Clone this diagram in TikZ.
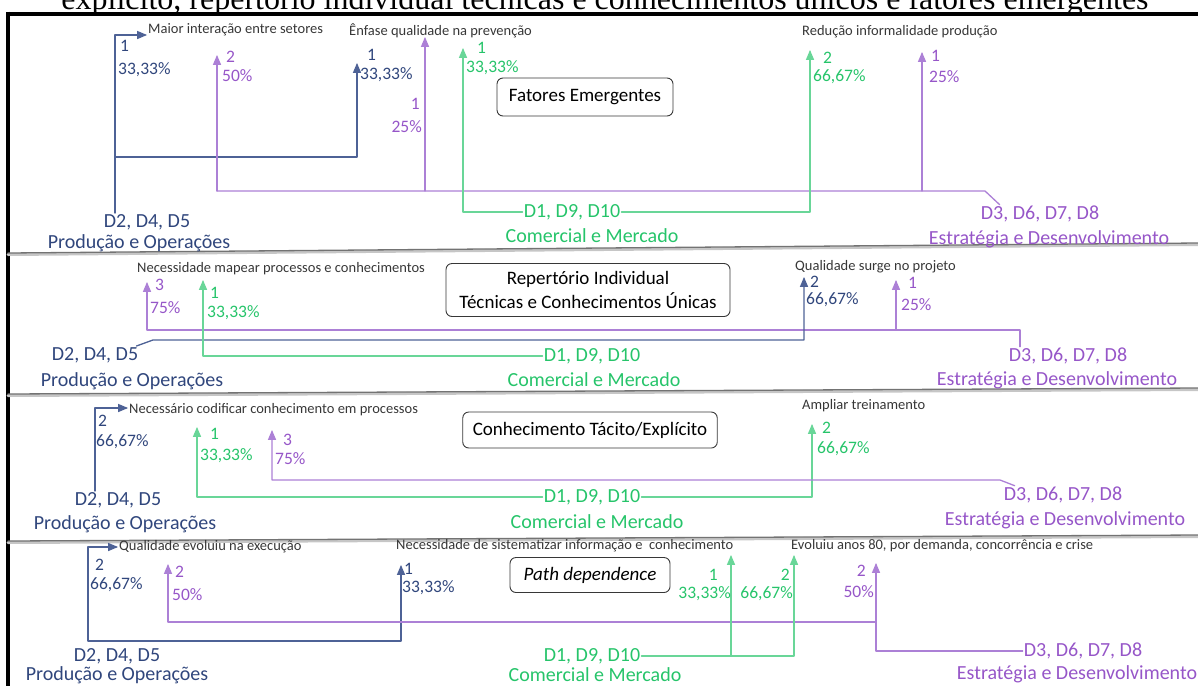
\documentclass[tikz,border=0pt]{standalone}
\usepackage{fontspec}
\setmainfont{Carlito}
\newfontfamily\serifa{Liberation Serif}
\usetikzlibrary{arrows}

\definecolor{azul}{RGB}{48,70,124}
\definecolor{azulclaro}{RGB}{78,98,150}
\definecolor{roxo}{RGB}{150,86,200}
\definecolor{roxoclaro}{RGB}{172,128,214}
\definecolor{verde}{RGB}{38,196,106}
\definecolor{verdeclaro}{RGB}{105,214,152}
\definecolor{cinza}{RGB}{55,55,55}

\tikzset{
  dept/.style={inner sep=1pt,font=\fontsize{20}{22}\selectfont},
  pct/.style={inner sep=0pt,anchor=west,font=\fontsize{17.5}{19}\selectfont},
  nota/.style={inner sep=1pt,anchor=west,text=cinza,font=\fontsize{14.5}{16}\selectfont},
  caixa/.style={draw=cinza,rounded corners=6pt,line width=0.9pt,align=center,
    inner xsep=10pt,font=\fontsize{19}{24}\selectfont},
  azl/.style={draw=azulclaro,line width=1.3pt},
  rxl/.style={draw=roxoclaro,line width=1.3pt},
  vdl/.style={draw=verdeclaro,line width=1.3pt}
}

\begin{document}
\begin{tikzpicture}[line cap=round,line join=round,>=triangle 45,x=1pt,y=-1pt]
	\useasboundingbox (0,0) rectangle (1198,686);
	% titulo cortado no topo
	\begin{scope}
		\clip (0,0) rectangle (1198,12);
		\node[anchor=base,inner sep=0pt,font=\serifa\fontsize{32}{34}\selectfont] (titulo) at (605,9)
			{explícito, repertório individual técnicas e conhecimentos únicos e fatores emergentes};
	\end{scope}
	% moldura e separadores
	\draw [line width=4pt,line cap=butt] (6,13.5)--(1198,13.5);
	\draw [line width=4pt,line cap=butt] (8,11.5)--(8,686);
	\foreach \ya/\yb in {253/243,394/388,541/535}{
		\draw [gray!45,line width=3pt] (8,\ya+1.5)--(1198,\yb+1.5);
		\draw [gray!90!black,line width=1.3pt] (8,\ya)--(1198,\yb);
	}

	% ---------- fatores emergentes ----------
	\node[caixa,minimum width=176,minimum height=38] (fat) at (585,97) {Fatores Emergentes};
	\node[nota] (mai) at (147,30) {Maior interação entre setores};
	\node[nota] (enf) at (348,31) {Ênfase qualidade na prevenção};
	\node[nota] (red) at (801,32) {Redução informalidade produção};
	\node[dept,text=azul] (pro1) at (147,222) {D2, D4, D5};
	\node[dept,text=azul] (pro1b) at (139,243) {Produção e Operações};
	\node[dept,text=verde] (com1) at (572,212) {D1, D9, D10};
	\node[dept,text=verde] (com1b) at (592,236) {Comercial e Mercado};
	\node[dept,text=roxo] (est1) at (1040,214) {D3, D6, D7, D8};
	\node[dept,text=roxo] (est1b) at (1049,239) {Estratégia e Desenvolvimento};
	\coordinate (a1) at (357,63);
	\coordinate (r1a) at (217,55);
	\coordinate (r1b) at (425,37);
	\coordinate (r1c) at (922,52);
	\coordinate (v1a) at (463,48);
	\coordinate (v1b) at (810,50);
	\draw [azl,->] (115,0 |- pro1.north)--(115,35)--(mai.west |- 0,35);
	\draw [azl,->] (115,157) -| (a1);
	\draw [rxl] ([xshift=20pt]est1.north west)--(985,191)--(217,191);
	\foreach \p in {r1a,r1b,r1c}
		\draw [rxl,->] (\p |- 0,191)--(\p);
	\draw [vdl,->] (com1.west) -| (v1a);
	\draw [vdl,->] (com1.east) -| (v1b);
	\node[pct,text=azul] at (120,46) {1};
	\node[pct,text=azul] at (118,70) {33,33\%};
	\node[pct,text=azul] at (367,55) {1};
	\node[pct,text=azul] at (360,75) {33,33\%};
	\node[pct,text=roxo] at (226,57) {2};
	\node[pct,text=roxo] at (222,76) {50\%};
	\node[pct,text=roxo,anchor=east] at (420,104) {1};
	\node[pct,text=roxo,anchor=east] at (422,127) {25\%};
	\node[pct,text=roxo] at (931,56) {1};
	\node[pct,text=roxo] at (929,77) {25\%};
	\node[pct,text=verde] at (477,48) {1};
	\node[pct,text=verde] at (466,68) {33,33\%};
	\node[pct,text=verde] at (823,58) {2};
	\node[pct,text=verde] at (813,77) {66,67\%};

	% ---------- repertorio individual ----------
	\node[caixa,minimum width=284,minimum height=53] (rep) at (588,290)
		{Repertório Individual\\Técnicas e Conhecimentos Únicas};
	\node[nota] (nec) at (136,269) {Necessidade mapear processos e conhecimentos};
	\node[nota] (qua) at (794,267) {Qualidade surge no projeto};
	\node[dept,text=azul] (pro2) at (95,355) {D2, D4, D5};
	\node[dept,text=azul] (pro2b) at (132,381) {Produção e Operações};
	\node[dept,text=verde] (com2) at (592,356) {D1, D9, D10};
	\node[dept,text=verde] (com2b) at (594,380) {Comercial e Mercado};
	\node[dept,text=roxo] (est2) at (1068,356) {D3, D6, D7, D8};
	\node[dept,text=roxo] (est2b) at (1057,380) {Estratégia e Desenvolvimento};
	\coordinate (a2) at (804,277);
	\coordinate (r2a) at (147,282);
	\coordinate (r2b) at (896,280);
	\coordinate (v2a) at (203,280);
	\draw [rxl,->] (1020,0 |- est2.north)--(1020,330) -| (r2a);
	\draw [rxl,->] (r2b |- 0,330)--(r2b);
	\draw [azl,->] ([xshift=-3pt]pro2.north east)--(153,340) -| (a2);
	\draw [vdl,->] (com2.west) -| (v2a);
	\node[pct,text=roxo] at (155,285) {3};
	\node[pct,text=roxo] at (150,308) {75\%};
	\node[pct,text=roxo] at (908,283) {1};
	\node[pct,text=roxo] at (901,305) {25\%};
	\node[pct,text=verde] at (210,293) {1};
	\node[pct,text=verde] at (207,313) {33,33\%};
	\node[pct,text=azul] at (810,282) {2};
	\node[pct,text=azul] at (806,300) {66,67\%};

	% ---------- conhecimento tacito/explicito ----------
	\node[caixa,minimum width=254,minimum height=36] (tac) at (590,430) {Conhecimento Tácito/Explícito};
	\node[nota] (cod) at (128,410) {Necessário codificar conhecimento em processos};
	\node[nota] (amp) at (801,406) {Ampliar treinamento};
	\node[dept,text=azul] (pro3) at (118,500) {D2, D4, D5};
	\node[dept,text=azul] (pro3b) at (125,524) {Produção e Operações};
	\node[dept,text=verde] (com3) at (592,497) {D1, D9, D10};
	\node[dept,text=verde] (com3b) at (597,522) {Comercial e Mercado};
	\node[dept,text=roxo] (est3) at (1063,495) {D3, D6, D7, D8};
	\node[dept,text=roxo] (est3b) at (1065,520) {Estratégia e Desenvolvimento};
	\coordinate (v3a) at (197,427);
	\coordinate (v3b) at (812,424);
	\coordinate (r3a) at (272,430);
	\draw [azl,->] (95,0 |- pro3.north)--(95,408)--(cod.west |- 0,408);
	\draw [vdl,->] (com3.west) -| (v3a);
	\draw [vdl,->] (com3.east) -| (v3b);
	\draw [rxl,->] ([xshift=12pt]est3.north west)--(1000,480) -| (r3a);
	\node[pct,text=azul] at (98,421) {2};
	\node[pct,text=azul] at (96,442) {66,67\%};
	\node[pct,text=verde] at (210,434) {1};
	\node[pct,text=verde] at (200,456) {33,33\%};
	\node[pct,text=verde] at (822,428) {2};
	\node[pct,text=verde] at (817,449) {66,67\%};
	\node[pct,text=roxo] at (283,440) {3};
	\node[pct,text=roxo] at (275,459) {75\%};

	% ---------- path dependence ----------
	\node[caixa,minimum width=160,minimum height=35] (pat) at (590,575) {\textit{Path dependence}};
	\node[nota] (qev) at (118,547) {Qualidade evoluiu na execução};
	\node[nota] (sis) at (395,546) {Necessidade de sistematizar informação e \ conhecimento};
	\node[nota] (evo) at (790,546) {Evoluiu anos 80, por demanda, concorrência e crise};
	\node[dept,text=azul] (pro4) at (117,656) {D2, D4, D5};
	\node[dept,text=azul] (pro4b) at (117,675) {Produção e Operações};
	\node[dept,text=verde] (com4) at (592,656) {D1, D9, D10};
	\node[dept,text=verde] (com4b) at (595,675) {Comercial e Mercado};
	\node[dept,text=roxo] (est4) at (1083,651) {D3, D6, D7, D8};
	\node[dept,text=roxo] (est4b) at (1077,674) {Estratégia e Desenvolvimento};
	\coordinate (b4) at (88,641);
	\coordinate (a4) at (401,565);
	\coordinate (r4a) at (168,564);
	\coordinate (r4b) at (876,563);
	\coordinate (v4a) at (731,555);
	\coordinate (v4b) at (794,555);
	\draw [azl,<->] (qev.west |- 0,547)--(88,547)--(b4) -| (a4);
	\draw [rxl,->] (r4b |- 0,622) -| (r4a);
	\draw [rxl,->] (est4.west) -| (r4b);
	\draw [vdl,->] (com4.east) -| (v4b);
	\draw [vdl,->] (v4a |- com4.east)--(v4a);
	\node[pct,text=azul] at (95,565) {2};
	\node[pct,text=azul] at (90,585) {66,67\%};
	\node[pct,text=azul] at (404,569) {1};
	\node[pct,text=azul] at (402,588) {33,33\%};
	\node[pct,text=roxo] at (175,572) {2};
	\node[pct,text=roxo] at (172,595) {50\%};
	\node[pct,text=roxo,anchor=east] at (866,571) {2};
	\node[pct,text=roxo,anchor=east] at (874,592) {50\%};
	\node[pct,text=verde,anchor=east] at (718,575) {1};
	\node[pct,text=verde,anchor=east] at (731,594) {33,33\%};
	\node[pct,text=verde,anchor=east] at (790,575) {2};
	\node[pct,text=verde,anchor=east] at (793,594) {66,67\%};
\end{tikzpicture}
\end{document}
